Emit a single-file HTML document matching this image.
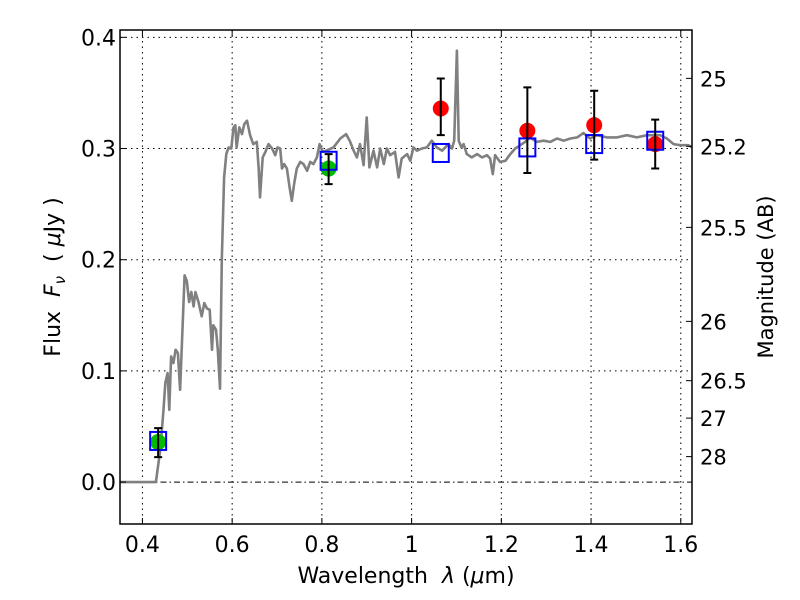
<!DOCTYPE html>
<html><head><meta charset="utf-8"><style>
html,body{margin:0;padding:0;background:#fff}
svg{display:block;font-family:"DejaVu Sans","Liberation Sans",sans-serif}
</style></head><body>
<svg id="chart" width="800" height="600" xmlns="http://www.w3.org/2000/svg">
<rect width="800" height="600" fill="#fff"/>
<g id="grid"></g>
<g id="spec"></g>
<g id="marks"></g>
<g id="axes"></g>
<text x="406" y="583" font-size="22" text-anchor="middle" xml:space="preserve">Wavelength  <tspan font-style="italic">λ</tspan> (<tspan font-style="italic">μ</tspan>m)</text>
<text transform="translate(60,277) rotate(-90)" font-size="22" text-anchor="middle" xml:space="preserve">Flux  <tspan font-style="italic">F</tspan><tspan font-style="italic" font-size="15" dy="5">ν</tspan><tspan dy="-5">  ( </tspan><tspan font-style="italic">μ</tspan>Jy )</text>
<text transform="translate(773,277) rotate(-90)" font-size="21" text-anchor="middle">Magnitude (AB)</text>
</svg>
<script>
const xTicks=[0.4,0.6,0.8,1.0,1.2,1.4,1.6];
const xTickLabels=["0.4","0.6","0.8","1","1.2","1.4","1.6"];
const yTicks=[0.0,0.1,0.2,0.3,0.4];
const yTickLabels=["0.0","0.1","0.2","0.3","0.4"];
const magTicks=[25,25.2,25.5,26,26.5,27,28];
const magTickLabels=["25","25.2","25.5","26","26.5","27","28"];
const specLam=[0.35,0.43,0.44,0.447,0.451,0.456,0.46,0.464,0.469,0.474,0.479,0.484,0.494,0.499,0.504,0.509,0.514,0.518,0.525,0.532,0.538,0.544,0.55,0.555,0.558,0.564,0.568,0.573,0.577,0.582,0.587,0.592,0.598,0.603,0.607,0.61,0.616,0.622,0.627,0.633,0.64,0.647,0.655,0.659,0.662,0.668,0.674,0.681,0.689,0.696,0.701,0.707,0.711,0.716,0.722,0.728,0.733,0.738,0.744,0.752,0.759,0.767,0.774,0.781,0.789,0.795,0.802,0.815,0.826,0.841,0.854,0.862,0.871,0.878,0.885,0.893,0.9,0.906,0.915,0.923,0.93,0.938,0.945,0.952,0.963,0.971,0.978,0.99,0.997,1.004,1.012,1.023,1.034,1.045,1.056,1.068,1.082,1.09,1.095,1.101,1.105,1.111,1.116,1.123,1.134,1.146,1.157,1.168,1.175,1.181,1.186,1.197,1.209,1.22,1.231,1.242,1.253,1.264,1.279,1.294,1.309,1.324,1.339,1.354,1.369,1.383,1.398,1.413,1.435,1.458,1.48,1.502,1.525,1.554,1.569,1.584,1.599,1.617,1.625];
const specFlux=[0,0,0.03,0.065,0.089,0.098,0.065,0.113,0.107,0.119,0.116,0.083,0.186,0.181,0.162,0.171,0.158,0.171,0.162,0.149,0.161,0.156,0.155,0.119,0.141,0.137,0.119,0.084,0.2,0.274,0.295,0.301,0.3,0.319,0.321,0.301,0.319,0.313,0.322,0.325,0.312,0.304,0.306,0.283,0.256,0.292,0.297,0.304,0.3,0.294,0.301,0.3,0.282,0.286,0.282,0.265,0.253,0.268,0.282,0.288,0.286,0.28,0.288,0.286,0.292,0.304,0.297,0.299,0.301,0.309,0.313,0.307,0.298,0.292,0.304,0.285,0.328,0.283,0.298,0.283,0.3,0.286,0.3,0.294,0.297,0.274,0.291,0.295,0.289,0.301,0.298,0.3,0.301,0.307,0.301,0.298,0.304,0.3,0.307,0.388,0.307,0.301,0.304,0.295,0.292,0.295,0.292,0.294,0.291,0.277,0.294,0.288,0.289,0.295,0.3,0.303,0.306,0.31,0.306,0.307,0.306,0.309,0.307,0.309,0.31,0.314,0.309,0.312,0.31,0.31,0.312,0.31,0.312,0.312,0.309,0.304,0.303,0.303,0.301];
const obsLam=[0.435,0.815,1.065,1.258,1.407,1.543];
const obsFlux=[0.036,0.282,0.336,0.316,0.321,0.304];
const obsErrHi=[0.0125,0.013,0.027,0.039,0.031,0.022];
const obsErrLo=[0.0135,0.014,0.024,0.038,0.031,0.022];
const obsColor=["#00bb00","#00bb00","#ff0000","#ff0000","#ff0000","#ff0000"];
const modelFlux=[0.037,0.289,0.296,0.301,0.304,0.307];

const L=120,R=692,T=30,B=524;
const X0=0.35,X1=1.625,Y0=-0.0377,Y1=0.4066;
const xs=v=>L+(v-X0)/(X1-X0)*(R-L);
const ys=v=>B-(v-Y0)/(Y1-Y0)*(B-T);
const NS="http://www.w3.org/2000/svg";
function mk(tag,attrs,parent){const e=document.createElementNS(NS,tag);for(const k in attrs)e.setAttribute(k,attrs[k]);parent.appendChild(e);return e;}
const grid=document.getElementById('grid'),axes=document.getElementById('axes'),spec=document.getElementById('spec'),marks=document.getElementById('marks');

xTicks.forEach((t,i)=>{
  const x=xs(t);
  const g=mk('line',{x1:x,x2:x,y1:T,y2:B,stroke:'#000','stroke-width':1,'stroke-dasharray':'1.5,4'},grid);
  
  
  mk('line',{x1:x,x2:x,y1:B,y2:B-6,stroke:'#000','stroke-width':1},axes);
  mk('line',{x1:x,x2:x,y1:T,y2:T+6,stroke:'#000','stroke-width':1},axes);
  const tx=mk('text',{x:x,y:B+28,'font-size':22,'text-anchor':'middle'},axes);
  tx.textContent=xTickLabels[i];
  
  
});
yTicks.forEach((t,i)=>{
  const y=ys(t);
  const g=mk('line',{x1:L,x2:R,y1:y,y2:y,stroke:'#000','stroke-width':1,'stroke-dasharray':t===0?'6,3,1.5,3':'1.5,4'},grid);
  
  
  mk('line',{x1:L,x2:L+6,y1:y,y2:y,stroke:'#000','stroke-width':1},axes);
  const tx=mk('text',{x:L-4,y:y+8,'font-size':22,'text-anchor':'end'},axes);
  tx.textContent=yTickLabels[i];
  
  
});
magTicks.forEach((m,i)=>{
  const y=ys(Math.pow(10,-0.4*(m-23.9)));
  mk('line',{x1:R,x2:R-6,y1:y,y2:y,stroke:'#000','stroke-width':1},axes);
  const tx=mk('text',{x:R+8,y:y+8,'font-size':21,'text-anchor':'start'},axes);
  tx.textContent=magTickLabels[i];
  
  
});
const frame=mk('rect',{x:L,y:T,width:R-L,height:B-T,fill:'none',stroke:'#000','stroke-width':1.5},axes);



const pts=specLam.map((l,i)=>xs(l).toFixed(1)+','+ys(specFlux[i]).toFixed(1)).join(' ');
const pl=mk('polyline',{points:pts,fill:'none',stroke:'#808080','stroke-width':2.6,'stroke-linejoin':'round'},spec);



obsLam.forEach((l,i)=>{
  const x=xs(l);
  const c=mk('circle',{cx:x,cy:ys(obsFlux[i]),r:8,fill:obsColor[i]},marks);
  
  
});
obsLam.forEach((l,i)=>{
  const x=xs(l);
  const s=mk('rect',{x:x-8,y:ys(modelFlux[i])-9,width:16,height:18,fill:'none',stroke:'#0000ff','stroke-width':2},marks);
  
  
});
obsLam.forEach((l,i)=>{
  const x=xs(l),y1=ys(obsFlux[i]+obsErrHi[i]),y2=ys(obsFlux[i]-obsErrLo[i]);
  const e=mk('path',{d:`M${x},${y1}V${y2}M${x-4},${y1}H${x+4}M${x-4},${y2}H${x+4}`,stroke:'#000','stroke-width':2,fill:'none'},marks);
  
  
});
</script>
</body></html>
